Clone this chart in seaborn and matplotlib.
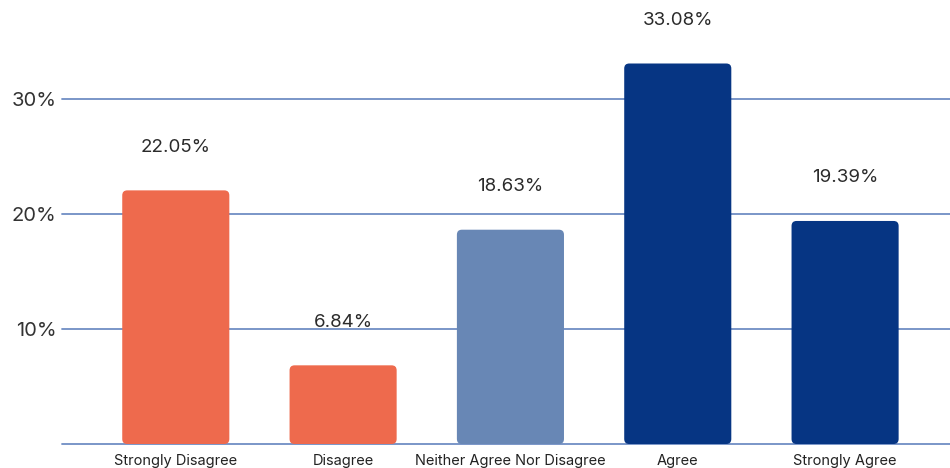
import matplotlib
matplotlib.use("Agg")
import matplotlib.pyplot as plt
import seaborn as sns
import pandas as pd
from matplotlib.patches import FancyBboxPatch

categories = ["Strongly Disagree", "Disagree", "Neither Agree Nor Disagree", "Agree", "Strongly Agree"]
values = [22.05, 6.84, 18.63, 33.08, 19.39]
colors = ["#EE6A4D", "#EE6A4D", "#6887B5", "#063583", "#063583"]
yticks = [10, 20, 30]
ytick_labels = ["10%", "20%", "30%"]

sns.set_theme(style="white")
plt.rcParams["font.family"] = ["Inter", "DejaVu Sans"]

df = pd.DataFrame({"cat": categories, "val": values})

fig = plt.figure(figsize=(9.5, 4.68), dpi=100)
ax = fig.add_axes([62/950, 24/468, 888/950, 444/468])

sns.barplot(data=df, x="cat", y="val", hue="cat", palette=colors, legend=False,
            width=0.64, ax=ax, zorder=3, saturation=1)

ax.set_xlim(-0.68, 4.627)
ax.set_ylim(0, 38.6)

# replace bars with rounded versions
px_x = 5.31 / 888
px_y = 38.6 / 444
for p in list(ax.patches):
    x, y = p.get_x(), p.get_y()
    w, h = p.get_width(), p.get_height()
    fc = p.get_facecolor()
    p.remove()
    r = 5 * px_x
    fb = FancyBboxPatch((x, y), w, h,
                        boxstyle=f"round,pad=0,rounding_size={r}",
                        mutation_aspect=px_y / px_x,
                        facecolor=fc, edgecolor="none", zorder=3)
    ax.add_patch(fb)

for i, v in enumerate(values):
    ax.annotate(f"{v:.2f}%", xy=(i, v), xytext=(0, 31), textcoords="offset points",
                ha="center", va="center", fontsize=13.5, color="#2B2B2B")

ax.set_yticks(yticks)
ax.set_yticklabels(ytick_labels, fontsize=14.5, color="#333333")
ax.tick_params(axis="y", length=0, pad=4)
ax.tick_params(axis="x", length=0, pad=7)
ax.set_xticks(range(len(categories)))
ax.set_xticklabels(categories, fontsize=10.5, color="#222222")
ax.set_xlabel("")
ax.set_ylabel("")

for t in [0] + yticks:
    ax.axhline(t, color="#6F8DC4", linewidth=1.3, zorder=1, clip_on=False)

for s in ax.spines.values():
    s.set_visible(False)
ax.grid(False)

fig.savefig("out.png", dpi=100)
